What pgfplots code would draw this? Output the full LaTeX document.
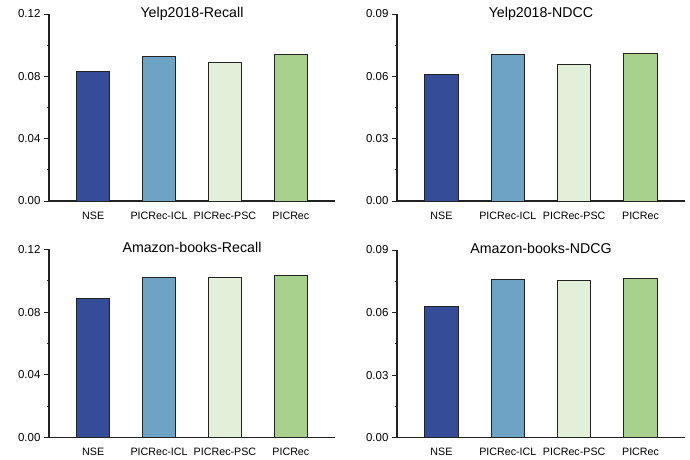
\documentclass[border=0pt]{standalone}
\usepackage{pgfplots}
\pgfplotsset{compat=1.18}
\usepackage{fontspec}
\setmainfont{Liberation Sans}
\definecolor{cNSE}{HTML}{354D98}
\definecolor{cICL}{HTML}{6FA3C6}
\definecolor{cPSC}{HTML}{E2EFD9}
\definecolor{cPIC}{HTML}{A9D18E}
\definecolor{axc}{HTML}{222222}
\pgfplotsset{
  panel/.style={
    scale only axis,
    anchor=south west,
    axis x line*=bottom,
    axis y line*=left,
    axis line style={axc, line width=1.1pt},
    xmin=-0.67, xmax=3.67,
    ymin=0,
    xtick={0,1,2,3},
    xticklabels={NSE,PICRec-ICL,PICRec-PSC,PICRec},
    x tick style={draw=none},
    tick align=outside,
    y tick style={axc, line width=0.9pt},
    major tick length=5pt,
    minor tick length=2.5pt,
    minor y tick num=1,
    xticklabel style={font=\fontsize{10.7}{12}\selectfont, yshift=-2pt},
    yticklabel style={font=\fontsize{11.5}{13}\selectfont, /pgf/number format/fixed, /pgf/number format/fixed zerofill, /pgf/number format/precision=2},
    /pgf/number format/assume math mode=true,
    scaled y ticks=false,
    ybar, bar width=0.5,
    clip=false,
  },
  b/.style={draw=axc, line width=1.0pt, fill=#1, bar shift=0pt},
}
\newcommand{\paneltitle}[1]{\node[anchor=base, font=\fontsize{14.2}{16}\selectfont] at (rel axis cs:0.5,1) [yshift=-3pt] {#1};}
\begin{document}
\begin{tikzpicture}
\useasboundingbox (0pt,0pt) rectangle (690pt,459pt);
% top-left
\begin{axis}[panel, at={(49pt,258pt)}, width=286pt, height=187pt, ymax=0.12, ytick={0,0.04,0.08,0.12}]
\addplot[b=cNSE] coordinates {(0,0.0832)};
\addplot[b=cICL] coordinates {(1,0.0926)};
\addplot[b=cPSC] coordinates {(2,0.0890)};
\addplot[b=cPIC] coordinates {(3,0.0937)};
\paneltitle{Yelp2018-Recall}
\end{axis}
% top-right
\begin{axis}[panel, at={(397pt,258pt)}, width=288pt, height=187pt, ymax=0.09, ytick={0,0.03,0.06,0.09}]
\addplot[b=cNSE] coordinates {(0,0.0608)};
\addplot[b=cICL] coordinates {(1,0.0704)};
\addplot[b=cPSC] coordinates {(2,0.0656)};
\addplot[b=cPIC] coordinates {(3,0.0712)};
\paneltitle{Yelp2018-NDCC}
\end{axis}
% bottom-left
\begin{axis}[panel, at={(49pt,21.3pt)}, width=286pt, height=188.4pt, ymax=0.12, ytick={0,0.04,0.08,0.12}]
\addplot[b=cNSE] coordinates {(0,0.0884)};
\addplot[b=cICL] coordinates {(1,0.1022)};
\addplot[b=cPSC] coordinates {(2,0.1018)};
\addplot[b=cPIC] coordinates {(3,0.1030)};
\paneltitle{Amazon-books-Recall}
\end{axis}
% bottom-right
\begin{axis}[panel, at={(397pt,21.3pt)}, width=288pt, height=187.7pt, ymax=0.09, ytick={0,0.03,0.06,0.09}]
\addplot[b=cNSE] coordinates {(0,0.0631)};
\addplot[b=cICL] coordinates {(1,0.0761)};
\addplot[b=cPSC] coordinates {(2,0.0755)};
\addplot[b=cPIC] coordinates {(3,0.0762)};
\paneltitle{Amazon-books-NDCG}
\end{axis}
\end{tikzpicture}
\end{document}
